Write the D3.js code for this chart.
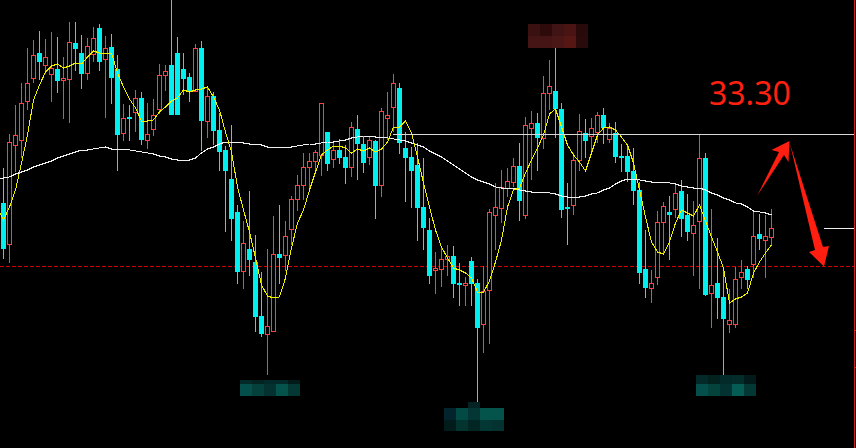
<!DOCTYPE html>
<html><head><meta charset="utf-8">
<script src="https://cdn.jsdelivr.net/npm/d3@7"></script>
<style>html,body{margin:0;padding:0;background:#000;overflow:hidden}svg{display:block}</style>
</head><body><div id="chart"></div>
<script>
const highs=[32.62,33.30,33.88,34.32,35.02,35.18,35.36,35.20,35.34,35.24,
34.84,35.54,35.54,35.28,35.22,35.44,35.50,35.26,35.30,34.88,
33.90,33.88,34.18,34.14,33.92,34.00,34.70,34.68,35.98,35.24,
34.92,34.52,35.10,35.16,34.24,34.14,33.72,33.06,33.48,31.88,
31.56,32.16,31.28,30.54,31.00,31.66,31.88,31.56,32.06,32.48,
32.92,32.92,32.98,33.92,33.34,33.12,33.20,33.08,33.54,33.68,
33.26,33.26,33.18,33.82,34.14,34.50,34.32,33.34,33.04,33.12,
32.82,31.62,30.94,31.04,31.08,31.06,30.72,30.44,30.84,30.40,
30.66,31.80,32.32,32.58,32.62,32.82,33.12,33.64,33.76,33.72,
34.46,34.78,35.02,33.92,32.32,32.92,33.70,33.60,33.62,33.74,
33.82,33.52,33.54,33.10,33.10,33.02,32.34,31.38,30.58,31.76,
31.94,32.06,32.28,32.38,32.10,31.96,33.28,32.92,31.80,31.22,
30.58,30.20,30.64,30.78,30.66,31.74,31.70,31.68,31.80];
const lows=[30.80,30.72,32.54,32.82,33.78,34.32,34.38,34.50,33.94,34.12,
33.60,33.52,34.56,34.20,34.38,34.74,34.56,33.62,33.90,32.56,
33.16,33.16,33.34,33.08,33.00,33.26,33.70,34.16,33.68,33.68,
34.08,33.94,34.14,32.96,33.22,33.08,32.56,31.34,31.16,30.30,
30.20,30.46,29.34,29.24,28.48,29.36,30.30,30.56,31.08,31.76,
31.98,32.22,32.52,32.46,32.56,32.62,32.70,32.30,32.44,32.38,
32.52,32.68,31.60,32.04,33.18,33.34,32.90,31.94,31.82,31.16,
30.98,30.30,30.10,30.24,30.46,30.02,29.86,29.86,29.86,27.94,
28.92,29.10,30.98,31.52,32.04,32.24,31.56,31.60,32.38,32.56,
33.00,33.78,33.22,31.62,31.08,31.68,32.56,32.82,32.90,33.12,
33.10,33.12,32.72,32.54,32.34,31.88,30.30,30.02,29.92,30.28,
30.92,30.78,31.62,31.24,31.16,30.46,30.20,30.06,29.42,29.60,
28.48,29.32,29.42,30.20,30.20,30.42,30.98,30.42,31.08];
const opens=[31.92,31.10,33.08,33.18,33.96,34.42,34.92,34.68,34.50,34.60,
34.38,34.40,35.12,34.92,34.52,34.90,35.42,34.80,35.04,34.60,
33.32,33.64,33.74,34.02,33.18,33.40,33.80,34.48,34.68,34.92,
34.60,34.44,34.16,35.02,33.56,34.06,33.38,32.98,32.40,31.74,
30.56,31.00,30.74,29.66,29.30,29.36,30.90,30.88,31.40,32.00,
32.28,32.64,32.76,32.88,33.34,32.80,32.98,32.84,32.64,33.40,
33.10,32.84,33.16,32.28,33.62,33.84,34.22,33.02,32.84,32.68,
31.84,31.38,30.58,30.60,30.80,30.86,30.32,30.28,30.76,30.32,
29.50,30.18,31.68,31.82,32.22,32.34,32.66,31.68,33.42,33.52,
33.22,34.12,34.16,33.80,31.84,31.88,32.78,33.32,33.26,33.34,
33.68,33.20,33.32,32.86,32.86,32.56,32.18,30.60,30.22,30.44,
31.54,31.74,31.80,32.16,31.68,31.32,31.56,32.82,30.12,30.32,
30.04,29.50,29.50,30.44,30.60,30.70,31.30,31.18,31.24];
const closes=[31.00,33.14,33.28,33.92,34.32,34.88,34.74,34.84,34.62,34.36,
34.42,35.14,35.00,34.50,35.06,35.22,34.74,35.02,34.42,33.28,
33.62,33.60,34.02,33.18,33.30,33.68,34.48,34.56,33.68,33.68,
34.40,34.14,35.02,33.56,34.06,33.36,32.94,32.56,31.60,30.54,
31.12,30.78,29.64,29.30,29.46,30.90,30.82,31.26,32.00,32.28,
32.64,32.76,32.94,33.92,32.70,32.98,32.82,32.62,33.44,33.10,
32.72,33.18,32.26,33.76,33.68,34.32,33.12,32.82,32.56,31.82,
31.42,30.46,30.62,30.80,30.86,30.30,30.28,30.32,30.30,29.42,
30.16,31.74,31.84,32.24,32.36,32.66,31.96,33.48,33.52,33.22,
34.12,34.26,33.80,31.78,31.80,32.78,33.36,33.16,33.42,33.68,
33.42,33.42,32.84,32.82,32.54,32.16,30.52,30.22,30.32,31.54,
31.86,31.68,32.12,31.60,31.34,31.48,32.82,30.08,30.28,30.02,
29.60,29.58,30.40,30.54,30.38,31.26,31.20,31.26,31.42];
const maFast=[31.58,31.84,32.18,32.72,33.28,33.98,34.28,34.54,34.66,34.70,
34.62,34.66,34.72,34.70,34.84,34.96,34.92,34.92,34.92,34.52,
34.24,34.00,33.82,33.56,33.56,33.58,33.74,33.84,33.96,34.02,
34.18,34.14,34.18,34.20,34.24,34.04,33.78,33.34,32.94,32.24,
31.78,31.34,30.82,30.28,30.06,30.02,30.04,30.42,31.02,31.52,
31.78,32.18,32.54,32.88,32.98,33.06,33.06,33.02,32.92,33.00,
32.96,33.02,32.94,33.00,33.14,33.44,33.44,33.56,33.32,32.84,
32.32,31.84,31.38,31.04,30.82,30.62,30.58,30.52,30.42,30.14,
30.14,30.36,30.74,31.18,31.84,32.18,32.22,32.52,32.78,33.02,
33.28,33.70,33.80,33.44,33.08,32.88,32.74,32.56,32.92,33.28,
33.42,33.44,33.38,33.24,33.08,32.72,32.18,31.64,31.14,30.94,
30.90,31.14,31.52,31.78,31.72,31.66,31.88,31.56,31.24,30.94,
30.62,29.92,30.00,30.04,30.12,30.52,30.74,30.92,31.08];
const maSlow=[32.42,32.44,32.50,32.54,32.58,32.64,32.68,32.72,32.76,32.82,
32.86,32.90,32.94,32.98,32.98,33.00,33.02,33.04,33.00,33.00,
33.00,32.98,32.96,32.94,32.92,32.90,32.86,32.84,32.80,32.78,
32.78,32.78,32.82,32.92,33.00,33.04,33.10,33.14,33.14,33.14,
33.12,33.10,33.10,33.08,33.04,33.04,33.04,33.04,33.04,33.06,
33.08,33.10,33.10,33.12,33.14,33.14,33.16,33.18,33.22,33.24,
33.26,33.26,33.24,33.24,33.22,33.20,33.18,33.16,33.12,33.08,
33.04,32.96,32.90,32.84,32.76,32.68,32.60,32.52,32.44,32.38,
32.34,32.30,32.24,32.22,32.22,32.22,32.18,32.16,32.14,32.14,
32.14,32.12,32.10,32.06,32.04,32.04,32.04,32.06,32.10,32.12,
32.18,32.22,32.30,32.36,32.40,32.40,32.38,32.36,32.34,32.34,
32.34,32.32,32.30,32.26,32.24,32.22,32.22,32.18,32.12,32.08,
32.02,31.98,31.92,31.90,31.84,31.76,31.74,31.72,31.68];
const maFastLead=31.72, maSlowLead=32.42;
const resistance=33.30, support=30.66, lastMark=31.42;
const labelText="33.30";
const mosaicColors=[
 ["#032a28","#032220","#032a2a","#032a28","#021a1a"],
 ["#044e4c","#04403c","#033230","#04544c","#033834"],
 ["#3a1010","#2e0a0a","#401414","#4a1414","#280a0a"],
 ["#451414","#451414","#4a1616","#551614","#2a0a0a"],
 ["#03242c","#044a44","#033634","#04544c","#04544c"],
 ["#021c1b","#033430","#022624","#033734","#033230"],
 ["#032a28","#02211f","#032a28","#032c2a","#021a1a"],
 ["#044e4c","#04423c","#033232","#055c54","#033834"]];

const W=856,H=448;
const svg=d3.select("#chart").append("svg").attr("width",W).attr("height",H).style("background","#000");
const x=d3.scaleLinear().domain([0,128]).range([3.5,771.5]);
const y=d3.scaleLinear().domain([35.98,27.98]).range([0,400]);
const py=v=>Math.round(y(v))+0.5;
const RED="#ff4040",CYAN="#00f0f0";
const data=opens.map((o,i)=>({i,o,c:closes[i],h:highs[i],l:lows[i],up:closes[i]>=o}));

// mosaics
const mosaicPos=[[240,380,5],[240,384,12],[528,24,12],[528,36,12],[444,408,12],[444,420,11],[696,375,9],[696,384,12]];
svg.append("g").selectAll("g").data(mosaicColors).join("g").each(function(row,k){
  const [mx,my,mh]=mosaicPos[k];
  d3.select(this).selectAll("rect").data(row).join("rect")
    .attr("x",(d,j)=>mx+j*12).attr("y",my).attr("width",12).attr("height",mh).attr("fill",d=>d).attr("shape-rendering","crispEdges");
});
svg.append("rect").attr("x",468).attr("y",402).attr("width",12).attr("height",6).attr("fill","#032422");

// right border
const border=svg.append("g").attr("stroke","#d02020").attr("shape-rendering","crispEdges");
border.append("line").attr("x1",854.5).attr("x2",854.5).attr("y1",0).attr("y2",H);
[330,367].forEach(t=>border.append("line").attr("x1",854).attr("x2",856).attr("y1",t+.5).attr("y2",t+.5));

// price lines
svg.append("line").attr("x1",0).attr("x2",854).attr("y1",py(support)).attr("y2",py(support))
  .attr("stroke","#d00000").attr("stroke-dasharray","4 2").attr("shape-rendering","crispEdges");

// candles
const g=svg.append("g").attr("shape-rendering","crispEdges");
const cs=g.selectAll("g").data(data).join("g");
cs.each(function(d){
  const s=d3.select(this),cx=x(d.i),col=d.up?RED:CYAN;
  const top=Math.round(y(Math.max(d.o,d.c))),bot=Math.round(y(Math.min(d.o,d.c)));
  s.append("line").attr("x1",cx).attr("x2",cx).attr("y1",Math.round(y(d.h))).attr("y2",top).attr("stroke",col);
  s.append("line").attr("x1",cx).attr("x2",cx).attr("y1",bot).attr("y2",Math.round(y(d.l))).attr("stroke",col);
  if(d.up) s.append("rect").attr("x",cx-2).attr("y",top+.5).attr("width",4).attr("height",Math.max(1,bot-top)).attr("fill","#000").attr("stroke",col);
  else s.append("rect").attr("x",cx-2.5).attr("y",top).attr("width",5).attr("height",Math.max(2,bot-top)).attr("fill",col);
});

// moving averages (each starts at the left edge of the window)
const lineGen=d3.line().x(d=>x(d[0])).y(d=>y(d[1]));
const withLead=(lead,vals)=>[[x.invert(0),lead]].concat(vals.map((v,i)=>[i,v]));
svg.append("path").attr("d",lineGen(withLead(maSlowLead,maSlow))).attr("fill","none").attr("stroke","#f0f0f0").attr("stroke-width",1).attr("shape-rendering","crispEdges");
svg.append("path").attr("d",lineGen(withLead(maFastLead,maFast))).attr("fill","none").attr("stroke","#f0f000").attr("stroke-width",1).attr("shape-rendering","crispEdges");

svg.append("line").attr("x1",393).attr("x2",854).attr("y1",py(resistance)).attr("y2",py(resistance)).attr("stroke","#d8d8d8").attr("shape-rendering","crispEdges");
svg.append("line").attr("x1",824).attr("x2",854).attr("y1",py(lastMark)).attr("y2",py(lastMark)).attr("stroke","#f0f0f0").attr("shape-rendering","crispEdges");

// arrows and label
const poly=d3.line();
svg.append("path").attr("d",poly([[757,196],[779,152],[771.5,150],[789.5,141],[788.5,162],[784,155]])+"Z").attr("fill","#ff1e10");
svg.append("path").attr("d",poly([[790,144],[823,247],[829,246],[824,266.5],[809,252],[815,250]])+"Z").attr("fill","#ff1e10");
svg.append("text").attr("x",709).attr("y",105).attr("font-family","'Noto Sans'").attr("font-size",32).attr("fill","#ff2010").text(labelText);
</script></body></html>
